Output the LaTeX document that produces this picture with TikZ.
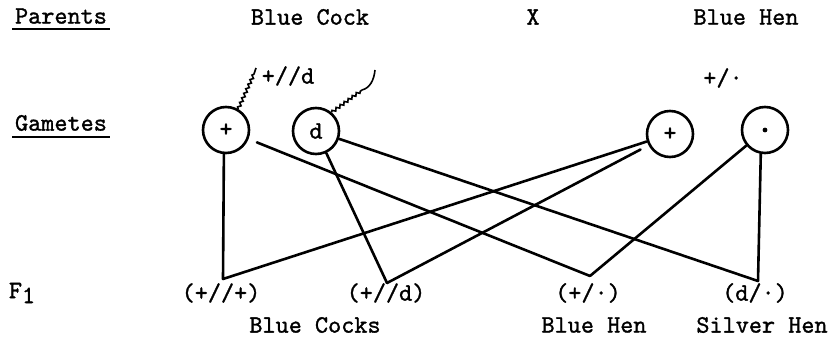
\documentclass[tikz,border=0pt]{standalone}
\usepackage{fontspec}
\newfontfamily\tw{lmmono10-regular}[Extension=.otf, FakeBold=1.2]
\usetikzlibrary{decorations.pathmorphing}
\begin{document}
\begin{tikzpicture}[x=1pt,y=-1pt,
  txt/.style={font=\fontsize{25}{28}\selectfont\tw, inner sep=0pt, anchor=center},
  gamete/.style={circle, draw, line width=2.6pt, minimum size=46pt, inner sep=0pt, font=\fontsize{25}{28}\selectfont\tw},
  link/.style={line width=2.6pt, line cap=round},
  uline/.style={line width=2.2pt},
  squig/.style={line width=1.6pt, decorate, decoration={snake, amplitude=1.4pt, segment length=5pt}}]
\useasboundingbox (0,0) rectangle (837,344);

% headings
\node[txt] (parents) at (61,16) {Parents};
\draw[uline] (12,29) -- (110,29);
\node[txt] (gametes) at (61,123) {Gametes};
\draw[uline] (12,137) -- (110,137);
\node[txt] (f1) at (22,293) {F\raisebox{-5pt}{1}};

% parents line
\node[txt] (bcock) at (310,17) {Blue Cock};
\node[txt] (cross) at (533,17) {X};
\node[txt] (bhen) at (746,17) {Blue Hen};

% genotypes of parents
\node[txt] (gcock) at (288,76) {+//d};
\node[txt] (ghen) at (723,78) {+/\textperiodcentered};

% gametes
\node[gamete] (gp) at (226,130) {+};
\node[gamete] (gd) at (316,131) {d};
\node[gamete] (hp) at (670,134) {+};
\node[gamete] (hd) at (765,130) {};
\fill (hd) circle (2.4pt);

% squiggles
\draw[squig] (gp.60) -- (254,74);
\draw[line width=1.6pt] (254,74) -- (256,68);
\draw[squig] (gd.50) -- (362,90);
\draw[line width=1.6pt] (362,90) .. controls (370,88) and (374,80) .. (375,70);

% F1 vertices
\coordinate (v1) at (223,279);
\coordinate (v2) at (387,283);
\coordinate (v3) at (590,276);
\coordinate (v4) at (758,281);

% connectors
\draw[link] (gp.-95) -- (v1);
\draw[link] (v1) -- (hp);
\draw[link, shorten <=9pt] (gp) -- (v3);
\draw[link] (gd) -- (v2);
\draw[link] (gd) -- (v4);
\draw[link, shorten <=9pt] (hp) -- (v2);
\draw[link] (hd) -- (v3);
\draw[link] (hd.-100) -- (v4);

% F1 labels
\node[txt] (o1) at (221,293) {(+//+)};
\node[txt] (o2) at (386,293) {(+//d)};
\node[txt] (o3) at (588,293) {(+/\textperiodcentered)};
\node[txt] (o4) at (755,293) {(d/\textperiodcentered)};
\node[txt] (l1) at (315,325) {Blue Cocks};
\node[txt] (l2) at (594,325) {Blue Hen};
\node[txt] (l3) at (762,325) {Silver Hen};
\end{tikzpicture}
\end{document}
